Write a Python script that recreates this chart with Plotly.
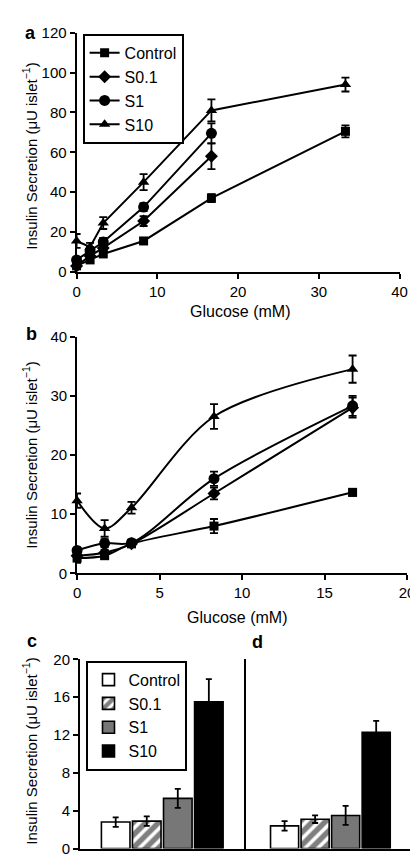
import plotly.graph_objects as go

# ---------------- data ----------------
glucose_a = [0, 1.67, 3.3, 8.3, 16.7, 33.3]
control_a = [3, 6, 9, 15.5, 37, 70.5]
control_a_err = [1, 1, 1, 1.5, 2, 3]
s01_a = [3, 8, 12, 25.5, 58]
s01_a_err = [1, 1.5, 1.5, 2.5, 6.5]
s1_a = [6, 10.5, 15, 32.5, 69.5]
s1_a_err = [1.5, 2, 2, 2, 5]
s10_a = [15.5, 12.5, 24.5, 45, 81, 94]
s10_a_err = [3.5, 2, 3, 4, 5.5, 3.5]

glucose_b = [0, 1.67, 3.3, 8.3, 16.7]
control_b = [2.6, 3.0, 5.0, 8.0, 13.7]
control_b_err = [0.8, 0.5, 0.5, 1.2, 0.6]
s01_b = [3.0, 3.5, 5.0, 13.5, 28.0]
s01_b_err = [0.5, 0.5, 0.5, 1.0, 1.7]
s1_b = [3.9, 5.1, 5.2, 16.0, 28.3]
s1_b_err = [0.5, 0.7, 0.5, 1.2, 1.7]
s10_b = [12.3, 7.6, 11.1, 26.5, 34.5]
s10_b_err = [1.2, 1.4, 1.0, 2.1, 2.3]

groups = ["Control", "S0.1", "S1", "S10"]
bars_c = [2.8, 2.9, 5.3, 15.5]
bars_c_err = [0.5, 0.5, 1.0, 2.4]
bars_d = [2.4, 3.1, 3.5, 12.3]
bars_d_err = [0.5, 0.4, 1.0, 1.2]

# ---------------- layout helpers ----------------
W, H = 418, 860
FONT = "Liberation Sans, Arial, sans-serif"

def dx(a, b):
    return [a / W, b / W]

def dy(top, bottom):
    return [1 - bottom / H, 1 - top / H]

symbols = ["square", "diamond", "circle", "triangle-up"]
sizes = [9, 10, 11, 10]

fig = go.Figure()

series_a = [(control_a, control_a_err), (s01_a, s01_a_err), (s1_a, s1_a_err), (s10_a, s10_a_err)]
for name, (vals, err), sym, sz in zip(groups, series_a, symbols, sizes):
    fig.add_trace(go.Scatter(
        x=glucose_a[:len(vals)], y=vals, name=name, mode="lines+markers",
        line=dict(color="black", width=2),
        marker=dict(symbol=sym, size=sz, color="black"),
        error_y=dict(type="data", array=err, color="black", thickness=1.8, width=4),
        cliponaxis=False, xaxis="x", yaxis="y", legend="legend",
    ))

series_b = [(control_b, control_b_err), (s01_b, s01_b_err), (s1_b, s1_b_err), (s10_b, s10_b_err)]
for name, (vals, err), sym, sz in zip(groups, series_b, symbols, sizes):
    fig.add_trace(go.Scatter(
        x=glucose_b, y=vals, name=name, mode="lines+markers", showlegend=False,
        line=dict(color="black", width=2, shape="spline", smoothing=0.9),
        marker=dict(symbol=sym, size=sz, color="black"),
        error_y=dict(type="data", array=err, color="black", thickness=1.8, width=4),
        cliponaxis=False, xaxis="x2", yaxis="y2",
    ))

fills = ["white", "white", "#777777", "black"]
patterns = [dict(shape=""), dict(shape="/", fgcolor="black", bgcolor="white", size=9, solidity=0.6),
            dict(shape=""), dict(shape="")]

for i, (name, fc, pat) in enumerate(zip(groups, fills, patterns)):
    fig.add_trace(go.Bar(
        x=[i], y=[bars_c[i]], name=name, width=0.92,
        marker=dict(color=fc, line=dict(color="black", width=1.6), pattern=pat),
        error_y=dict(type="data", array=[bars_c_err[i]], color="black", thickness=1.8, width=3),
        xaxis="x3", yaxis="y3", legend="legend2",
    ))
    fig.add_trace(go.Bar(
        x=[i], y=[bars_d[i]], name=name, width=0.92, showlegend=False,
        marker=dict(color=fc, line=dict(color="black", width=1.6), pattern=pat),
        error_y=dict(type="data", array=[bars_d_err[i]], color="black", thickness=1.8, width=3),
        xaxis="x4", yaxis="y4",
    ))

axis_common = dict(showline=True, linewidth=2, linecolor="black", showgrid=False, zeroline=False,
                   ticks="outside", ticklen=5, tickwidth=2, tickcolor="black",
                   tickfont=dict(size=15, color="black", family=FONT), fixedrange=True)

fig.update_layout(
    width=W, height=H, margin=dict(l=0, r=0, t=0, b=0),
    paper_bgcolor="white", plot_bgcolor="white",
    font=dict(family=FONT, color="black"),
    barmode="overlay",
    xaxis=dict(axis_common, domain=dx(66.5, 399), range=[0, 40], dtick=10, anchor="y"),
    yaxis=dict(axis_common, domain=dy(16, 260), range=[0, 120], dtick=20, anchor="x"),
    xaxis2=dict(axis_common, domain=dx(67, 406.7), range=[0, 20], dtick=5, anchor="y2"),
    yaxis2=dict(axis_common, domain=dy(326, 567.7), range=[0, 40], dtick=10, anchor="x2"),
    xaxis3=dict(axis_common, domain=dx(70, 240.7), range=[-1.15, 4.19], ticks="", showticklabels=False, anchor="y3"),
    yaxis3=dict(axis_common, domain=dy(655.3, 848.3), range=[0, 20], dtick=4, anchor="x3"),
    xaxis4=dict(axis_common, domain=dx(240.7, 413), range=[-1.27, 4.21], ticks="", showticklabels=False, anchor="y4"),
    yaxis4=dict(axis_common, domain=dy(655.3, 848.3), range=[0, 20], ticks="", showticklabels=False, anchor="x4"),
    legend=dict(x=72.7 / W, y=1 - 17.3 / H, xanchor="left", yanchor="top",
                bordercolor="black", borderwidth=2, bgcolor="white",
                font=dict(size=16, color="black", family=FONT), tracegroupgap=0),
    legend2=dict(x=76.7 / W, y=1 - 656.7 / H, xanchor="left", yanchor="top",
                 bordercolor="black", borderwidth=2, bgcolor="white",
                 font=dict(size=16, color="black", family=FONT), tracegroupgap=0),
)

ytitle = "Insulin Secretion (\u03bcU islet<sup>\u22121</sup>)"
annotations = [
    dict(text=ytitle, x=18 / W, y=1 - 142 / H, textangle=-90),
    dict(text=ytitle, x=18 / W, y=1 - 447 / H, textangle=-90),
    dict(text=ytitle, x=18 / W, y=1 - 749 / H, textangle=-90),
]
for a in annotations:
    fig.add_annotation(xref="paper", yref="paper", showarrow=False, xanchor="center", yanchor="middle",
                       font=dict(size=15, color="black", family=FONT), **a)

for a in [dict(text="Glucose (mM)", x=235 / W, y=1 - 300 / H),
          dict(text="Glucose (mM)", x=232 / W, y=1 - 613 / H)]:
    fig.add_annotation(xref="paper", yref="paper", showarrow=False, xanchor="center", yanchor="middle",
                       font=dict(size=16, color="black", family=FONT), **a)

for lab, x, y in [("a", 19, 16), ("b", 20, 323), ("c", 21, 637), ("d", 253, 638)]:
    fig.add_annotation(xref="paper", yref="paper", showarrow=False, xanchor="center", yanchor="middle",
                       x=x / W, y=1 - y / H, text="<b>%s</b>" % lab,
                       font=dict(size=18, color="black", family=FONT))

fig.write_html("out.html")
